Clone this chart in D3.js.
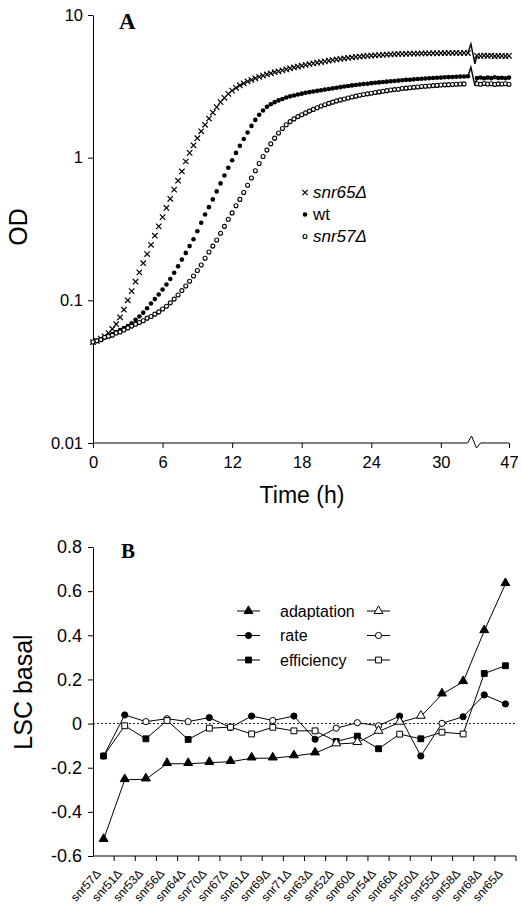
<!DOCTYPE html>
<html>
<head>
<meta charset="utf-8">
<script src="https://cdn.jsdelivr.net/npm/d3@7"></script>
<style>
body { margin: 0; background: #fff; }
text { font-family: "Liberation Sans", Arial, sans-serif; fill: #000; }
</style>
</head>
<body>
<div id="chart"></div>
<script>
// ---- panel A: growth curves, one reading every 20 min up to the axis break
const stepH = 1 / 3;
const snr65OD = [
  0.051, 0.052, 0.054,  0.056, 0.059, 0.063,  0.068, 0.076, 0.086,  0.100, 0.116, 0.135,
  0.157, 0.182, 0.211,  0.245, 0.284, 0.330,  0.383, 0.444, 0.515,  0.597, 0.69, 0.80,
  0.94, 1.08, 1.22,  1.37, 1.53, 1.70,  1.88, 2.07, 2.26,  2.45, 2.63, 2.80,
  2.95, 3.09, 3.21,  3.32, 3.42, 3.51,  3.60, 3.68, 3.76,  3.83, 3.90, 3.97,
  4.03, 4.09, 4.16,  4.23, 4.29, 4.35,  4.41, 4.47, 4.53,  4.58, 4.63, 4.68,
  4.73, 4.78, 4.83,  4.88, 4.92, 4.96,  5.00, 5.04, 5.08,  5.11, 5.14, 5.17,
  5.20, 5.22, 5.24,  5.26, 5.28, 5.30,  5.31, 5.33, 5.34,  5.35, 5.36, 5.37,
  5.37, 5.38, 5.38,  5.39, 5.40, 5.39,  5.41, 5.40, 5.42,  5.41, 5.43, 5.40,
  5.42, 5.41
];
const wtOD = [
  0.051, 0.052, 0.053,  0.055, 0.056, 0.058,  0.060, 0.062, 0.064,  0.066, 0.069, 0.073,
  0.077, 0.082, 0.088,  0.095, 0.102, 0.110,  0.119, 0.129, 0.141,  0.156, 0.173, 0.193,
  0.215, 0.240, 0.268,  0.305, 0.350, 0.400,  0.45, 0.51, 0.58,  0.66, 0.75, 0.85,
  0.96, 1.08, 1.21,  1.35, 1.50, 1.67,  1.84, 2.00, 2.14,  2.27, 2.37, 2.45,
  2.52, 2.58, 2.64,  2.69, 2.73, 2.77,  2.81, 2.85, 2.88,  2.91, 2.94, 2.97,
  3.00, 3.03, 3.06,  3.09, 3.12, 3.15,  3.18, 3.21, 3.23,  3.26, 3.28, 3.30,
  3.33, 3.35, 3.37,  3.39, 3.41, 3.43,  3.45, 3.47, 3.49,  3.51, 3.52, 3.54,
  3.56, 3.57, 3.59,  3.60, 3.62, 3.63,  3.64, 3.66, 3.67,  3.68, 3.69, 3.70,
  3.71, 3.72
];
const snr57OD = [
  0.051, 0.052, 0.053,  0.055, 0.056, 0.057,  0.059, 0.060, 0.062,  0.064, 0.066, 0.068,
  0.070, 0.072, 0.075,  0.077, 0.080, 0.083,  0.087, 0.091, 0.096,  0.102, 0.109, 0.117,
  0.126, 0.136, 0.148,  0.162, 0.177, 0.197,  0.218, 0.240, 0.265,  0.295, 0.33, 0.37,
  0.41, 0.46, 0.51,  0.57, 0.64, 0.72,  0.81, 0.91, 1.02,  1.13, 1.25, 1.37,
  1.49, 1.60, 1.70,  1.79, 1.87, 1.94,  2.00, 2.06, 2.12,  2.18, 2.24, 2.30,
  2.35, 2.40, 2.45,  2.50, 2.54, 2.58,  2.62, 2.66, 2.70,  2.74, 2.77, 2.80,
  2.83, 2.86, 2.89,  2.92, 2.95, 2.98,  3.00, 3.02, 3.05,  3.07, 3.09, 3.11,
  3.13, 3.15, 3.17,  3.18, 3.20, 3.21,  3.23, 3.24, 3.25,  3.26, 3.27, 3.28,
  3.29
];
// readings after the break in the time axis (from 44 h)
const lateStartH = 44;
const snr65Late = [5.18, 5.15, 5.20, 5.16, 5.19, 5.14, 5.18, 5.17, 5.15, 5.18];
const wtLate    = [3.62, 3.65, 3.60, 3.64, 3.61, 3.66, 3.62, 3.63, 3.60, 3.64];
const snr57Late = [3.30, 3.27, 3.31, 3.28, 3.30, 3.26, 3.29, 3.28, 3.30, 3.27];

const timeTicks = [0, 6, 12, 18, 24, 30, 47];
const odTicks = [0.01, 0.1, 1, 10];
const strainLabels = ["snr65Δ", "wt", "snr57Δ"];

// ---- panel B: LSC basal per deletion
const mutants = ["snr57Δ", "snr51Δ", "snr53Δ", "snr56Δ", "snr64Δ", "snr70Δ", "snr67Δ",
  "snr61Δ", "snr69Δ", "snr71Δ", "snr63Δ", "snr52Δ", "snr60Δ", "snr54Δ", "snr66Δ",
  "snr50Δ", "snr55Δ", "snr58Δ", "snr68Δ", "snr65Δ"];
const adaptation = [-0.526, -0.255, -0.252, -0.182, -0.182, -0.177, -0.173, -0.157, -0.157,
  -0.147, -0.134, -0.093, -0.087, -0.036, 0.005, 0.032, 0.133, 0.189, 0.42, 0.633];
const adaptationFilled = [1, 1, 1, 1, 1, 1, 1, 1, 1, 1, 1, 0, 0, 0, 0, 0, 1, 1, 1, 1];
const rate = [-0.147, 0.039, 0.009, 0.022, 0.009, 0.027, -0.018, 0.034, 0.014, 0.034,
  -0.071, -0.021, 0.004, -0.010, 0.034, -0.147, 0.001, 0.031, 0.13, 0.089];
const rateFilled = [1, 1, 0, 0, 0, 1, 0, 1, 0, 1, 1, 0, 0, 0, 1, 1, 0, 1, 1, 1];
const efficiency = [-0.147, -0.010, -0.069, 0.014, -0.072, -0.021, -0.016, -0.047, -0.017,
  -0.033, -0.033, -0.081, -0.057, -0.114, -0.048, -0.069, -0.039, -0.047, 0.227, 0.262];
const efficiencyFilled = [1, 0, 1, 0, 1, 0, 0, 0, 0, 0, 0, 1, 1, 1, 0, 1, 0, 0, 1, 1];
const lscTicks = [-0.6, -0.4, -0.2, 0, 0.2, 0.4, 0.6, 0.8];
const parameterLabels = ["adaptation", "rate", "efficiency"];

const width = 521, height = 909;
const svg = d3.select("#chart").append("svg")
    .attr("width", width)
    .attr("height", height)
    .style("background", "#fff");

// ================= panel A =================
const xA = d3.scaleLinear()
    .domain([0, 32.6, 44, 47])
    .range([93, 471, 477, 509]);
const yA = d3.scaleLog()
    .domain([0.01, 10])
    .range([443, 15]);

// y axis
svg.append("g")
    .attr("transform", "translate(93,0)")
    .call(d3.axisLeft(yA).tickValues(odTicks).tickFormat(d => String(d)).tickSize(5).tickSizeOuter(0))
    .call(g => g.selectAll("text").style("font-size", "16.5px").attr("dx", "-2"));

// x axis, own domain line with a break
const xAxisA = svg.append("g")
    .attr("transform", "translate(0,443)")
    .call(d3.axisBottom(xA).tickValues(timeTicks).tickSize(5).tickSizeOuter(0))
    .call(g => g.selectAll("text").style("font-size", "16.5px").attr("dy", "1.05em"));
xAxisA.select(".domain").remove();
const bx = xA(32.3);
xAxisA.append("path")
    .attr("d", `M93,0H${bx}l4,-7l5,12l4,-5H${xA(47)}`)
    .attr("fill", "none").attr("stroke", "#000");

const series = [
  {name: strainLabels[0], od: snr65OD, late: snr65Late, mark: "cross", zig: true},
  {name: strainLabels[1], od: wtOD, late: wtLate, mark: "dot", zig: true},
  {name: strainLabels[2], od: snr57OD, late: snr57Late, mark: "ring", zig: false}
];

function drawMark(sel, mark) {
  if (mark === "cross") {
    sel.append("path")
        .attr("d", "M-2.7,-2.7L2.7,2.7M-2.7,2.7L2.7,-2.7")
        .attr("stroke", "#000").attr("stroke-width", 1.2).attr("fill", "none");
  } else if (mark === "dot") {
    sel.append("circle").attr("r", 2.3).attr("fill", "#000");
  } else {
    sel.append("circle").attr("r", 2.0).attr("fill", "#fff")
        .attr("stroke", "#000").attr("stroke-width", 1.1);
  }
}

series.forEach(s => {
  let pts = s.od.map((v, i) => [i * stepH, v]);
  let latePts = s.late.map((v, i) => [lateStartH + i * stepH, v]);

  // zigzag joining the two sides of the break
  if (s.zig) {
    let a = pts[pts.length - 1], b = latePts[0];
    let x0 = xA(a[0]), y0 = yA(a[1]);
    svg.append("path")
        .attr("d", `M${x0},${y0}L${x0 + 3},${y0 - 9}L${x0 + 7},${yA(b[1]) + 8}L${xA(b[0])},${yA(b[1])}`)
        .attr("fill", "none").attr("stroke", "#000").attr("stroke-width", 1.4);
  }

  svg.append("g").selectAll("g")
      .data(pts.concat(latePts))
      .join("g")
      .attr("transform", d => `translate(${xA(d[0])},${yA(d[1])})`)
      .each(function() { drawMark(d3.select(this), s.mark); });
});

// legend A
series.forEach((s, i) => {
  let yy = 198 + i * 22;
  let g = svg.append("g").attr("transform", `translate(305,${yy - 5.5})`);
  drawMark(g, s.mark);
  svg.append("text")
      .attr("x", 313).attr("y", yy)
      .style("font-size", "17px")
      .style("font-style", i === 1 ? "normal" : "italic")
      .text(s.name);
});

svg.append("text")
    .attr("x", 119).attr("y", 29)
    .style("font-family", "'Liberation Serif', serif")
    .style("font-weight", "bold")
    .style("font-size", "23px")
    .text("A");

svg.append("text")
    .attr("transform", "translate(27,227) rotate(-90)")
    .attr("text-anchor", "middle")
    .style("font-size", "25px")
    .text("OD");

svg.append("text")
    .attr("x", 302).attr("y", 503)
    .attr("text-anchor", "middle")
    .style("font-size", "23px")
    .text("Time (h)");

// ================= panel B =================
const xB = d3.scaleBand()
    .domain(mutants)
    .range([93, 516]);
const yB = d3.scaleLinear()
    .domain([-0.6, 0.8])
    .range([856, 547]);

svg.append("g")
    .attr("transform", "translate(93,0)")
    .call(d3.axisLeft(yB).tickValues(lscTicks)
        .tickFormat(d => d === 0 ? "0" : d.toFixed(1)).tickSize(5).tickSizeOuter(0))
    .call(g => g.selectAll("text").style("font-size", "18px").attr("dx", "-3"));

// bottom axis: ticks on band edges
const xAxisB = svg.append("g");
xAxisB.append("line")
    .attr("x1", 93).attr("x2", 516)
    .attr("y1", 856).attr("y2", 856)
    .attr("stroke", "#000");
xAxisB.selectAll("line.tick")
    .data(mutants)
    .join("line")
    .attr("class", "tick")
    .attr("x1", d => xB(d) + xB.bandwidth())
    .attr("x2", d => xB(d) + xB.bandwidth())
    .attr("y1", 856).attr("y2", 861)
    .attr("stroke", "#000");
xAxisB.selectAll("text")
    .data(mutants)
    .join("text")
    .attr("transform", d => `translate(${xB(d) + xB.bandwidth() / 2 - 2},${874}) rotate(-48)`)
    .attr("text-anchor", "end")
    .attr("fill", "#000")
    .style("font-size", "12px")
    .text(d => d);

// zero line
svg.append("line")
    .attr("x1", 93).attr("x2", 516)
    .attr("y1", yB(0)).attr("y2", yB(0))
    .attr("stroke", "#000").attr("stroke-width", 0.9)
    .attr("stroke-dasharray", "2,2");

const symTri = d3.symbol().type(d3.symbolTriangle).size(34);
const symCirc = d3.symbol().type(d3.symbolCircle).size(30);
const symSq = d3.symbol().type(d3.symbolSquare).size(34);

const params = [
  {name: parameterLabels[1], vals: rate, filled: rateFilled, sym: symCirc, dy: 0},
  {name: parameterLabels[2], vals: efficiency, filled: efficiencyFilled, sym: symSq, dy: 0},
  {name: parameterLabels[0], vals: adaptation, filled: adaptationFilled, sym: symTri, dy: 0.8}
];

const lineB = d3.line()
    .x((d, i) => xB(mutants[i]) + xB.bandwidth() / 2)
    .y(d => yB(d));

params.forEach(p => {
  svg.append("path")
      .datum(p.vals)
      .attr("d", lineB)
      .attr("fill", "none")
      .attr("stroke", "#000")
      .attr("stroke-width", 1);
  svg.append("g").selectAll("path")
      .data(p.vals)
      .join("path")
      .attr("d", p.sym)
      .attr("transform", (d, i) => `translate(${xB(mutants[i]) + xB.bandwidth() / 2},${yB(d) - p.dy})`)
      .attr("fill", (d, i) => p.filled[i] ? "#000" : "#fff")
      .attr("stroke", "#000")
      .attr("stroke-width", 1);
});

// legend B
const legendB = [
  {name: parameterLabels[0], sym: symTri},
  {name: parameterLabels[1], sym: symCirc},
  {name: parameterLabels[2], sym: symSq}
];
legendB.forEach((l, i) => {
  let yy = 611 + i * 24.5;
  [[237, 260, 248.5, "#000"], [367, 390, 378.5, "#fff"]].forEach(c => {
    svg.append("line")
        .attr("x1", c[0]).attr("x2", c[1])
        .attr("y1", yy).attr("y2", yy)
        .attr("stroke", "#000");
    svg.append("path")
        .attr("d", l.sym)
        .attr("transform", `translate(${c[2]},${yy})`)
        .attr("fill", c[3])
        .attr("stroke", "#000");
  });
  svg.append("text")
      .attr("x", 280).attr("y", yy + 5.5)
      .style("font-size", "16px")
      .text(l.name);
});

svg.append("text")
    .attr("x", 121).attr("y", 558)
    .style("font-family", "'Liberation Serif', serif")
    .style("font-weight", "bold")
    .style("font-size", "21px")
    .text("B");

svg.append("text")
    .attr("transform", "translate(32,692) rotate(-90)")
    .attr("text-anchor", "middle")
    .style("font-size", "25px")
    .text("LSC basal");
</script>
</body>
</html>
